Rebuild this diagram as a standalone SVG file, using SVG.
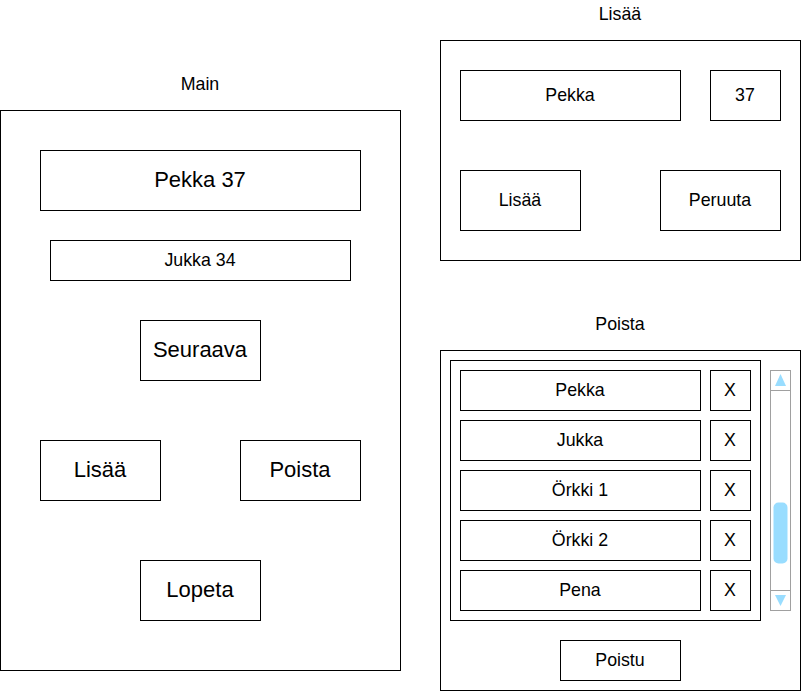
<svg xmlns="http://www.w3.org/2000/svg" width="801" height="691" viewBox="0 0 801 691">
<style>
rect.b{fill:#fff;stroke:#000;stroke-width:1}
text{font-family:"Liberation Sans",Arial,Helvetica,sans-serif;fill:#000;text-anchor:middle;dominant-baseline:central}
.t20{font-size:22px}
.t16{font-size:17.8px}
</style>
<rect width="801" height="691" fill="#fff"/>
<g id="main-window">
<text class="t16" x="200" y="84">Main</text>
<rect class="b" x="0.5" y="110.5" width="400" height="560"/>
</g>
<g id="main-pekka"><rect class="b" x="40.5" y="150.5" width="320" height="60"/><text class="t20" x="200" y="179">Pekka 37</text></g>
<g id="main-jukka"><rect class="b" x="50.5" y="240.5" width="300" height="40"/><text class="t16" x="200" y="260">Jukka 34</text></g>
<g id="main-seuraava"><rect class="b" x="140.5" y="320.5" width="120" height="60"/><text class="t20" x="200" y="349">Seuraava</text></g>
<g id="main-lisaa"><rect class="b" x="40.5" y="440.5" width="120" height="60"/><text class="t20" x="100" y="469">Lisää</text></g>
<g id="main-poista"><rect class="b" x="240.5" y="440.5" width="120" height="60"/><text class="t20" x="300" y="469">Poista</text></g>
<g id="main-lopeta"><rect class="b" x="140.5" y="560.5" width="120" height="60"/><text class="t20" x="200" y="589">Lopeta</text></g>

<g id="lisaa-window">
<text class="t16" x="620" y="14">Lisää</text>
<rect class="b" x="440.5" y="40.5" width="360" height="220"/>
</g>
<g id="lisaa-name"><rect class="b" x="460.5" y="70.5" width="220" height="50"/><text class="t16" x="570" y="95">Pekka</text></g>
<g id="lisaa-age"><rect class="b" x="710.5" y="70.5" width="70" height="50"/><text class="t16" x="745" y="95">37</text></g>
<g id="lisaa-ok"><rect class="b" x="460.5" y="170.5" width="120" height="60"/><text class="t16" x="520" y="199.5">Lisää</text></g>
<g id="lisaa-cancel"><rect class="b" x="660.5" y="170.5" width="120" height="60"/><text class="t16" x="720" y="199.5">Peruuta</text></g>

<g id="poista-window">
<text class="t16" x="620" y="324">Poista</text>
<rect class="b" x="440.5" y="350.5" width="360" height="340"/>
</g>
<g id="poista-list"><rect class="b" x="450.5" y="360.5" width="310" height="260"/></g>
<g id="row1"><rect class="b" x="460.5" y="370.5" width="240" height="40"/><text class="t16" x="580" y="390">Pekka</text><rect class="b" x="710.5" y="370.5" width="40" height="40"/><text class="t16" x="730" y="390">X</text></g>
<g id="row2"><rect class="b" x="460.5" y="420.5" width="240" height="40"/><text class="t16" x="580" y="440">Jukka</text><rect class="b" x="710.5" y="420.5" width="40" height="40"/><text class="t16" x="730" y="440">X</text></g>
<g id="row3"><rect class="b" x="460.5" y="470.5" width="240" height="40"/><text class="t16" x="580" y="490">Örkki 1</text><rect class="b" x="710.5" y="470.5" width="40" height="40"/><text class="t16" x="730" y="490">X</text></g>
<g id="row4"><rect class="b" x="460.5" y="520.5" width="240" height="40"/><text class="t16" x="580" y="540">Örkki 2</text><rect class="b" x="710.5" y="520.5" width="40" height="40"/><text class="t16" x="730" y="540">X</text></g>
<g id="row5"><rect class="b" x="460.5" y="570.5" width="240" height="40"/><text class="t16" x="580" y="590">Pena</text><rect class="b" x="710.5" y="570.5" width="40" height="40"/><text class="t16" x="730" y="590">X</text></g>
<g id="scrollbar">
<rect x="770.5" y="370.5" width="20" height="240" fill="#fff" stroke="#a0a0a0"/>
<line x1="770.5" y1="390.5" x2="790.5" y2="390.5" stroke="#a0a0a0"/>
<line x1="770.5" y1="590.5" x2="790.5" y2="590.5" stroke="#a0a0a0"/>
<polygon points="780.5,374 775,386 786,386" fill="#99ddff"/>
<polygon points="780.5,606 775,595 786,595" fill="#99ddff"/>
<rect x="773.5" y="502.5" width="14" height="61" rx="5" fill="#99ddff"/>
</g>
<g id="poista-exit"><rect class="b" x="560.5" y="640.5" width="120" height="40"/><text class="t16" x="620" y="660">Poistu</text></g>
<g id="connectors"></g>
</svg>
